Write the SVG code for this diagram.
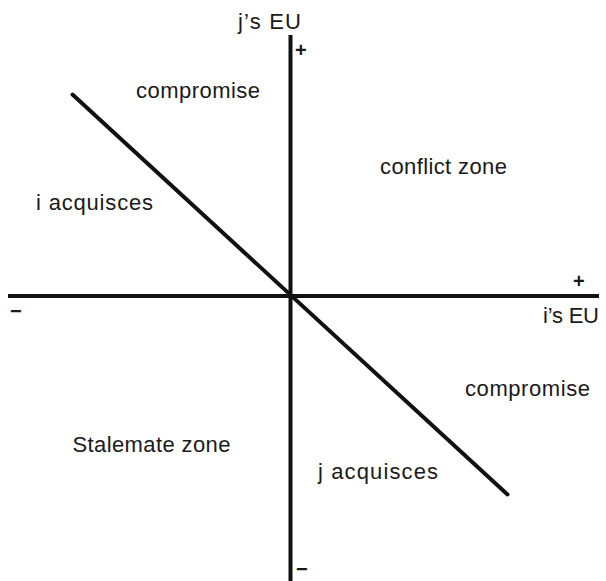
<svg xmlns="http://www.w3.org/2000/svg" width="606" height="581" viewBox="0 0 606 581">
<style>
text{font-family:"Liberation Sans",Arial,sans-serif;font-size:22px;fill:#1a1a1a}
.ax{stroke:#111;stroke-width:4;fill:none}
.sg{font-size:20px;font-weight:bold}
</style>
<rect width="606" height="581" fill="#fff"/>
<g id="connectors">
<line class="ax" x1="290.5" y1="35" x2="290.5" y2="581"/>
<line class="ax" x1="8" y1="296" x2="599" y2="296"/>
<line class="ax" x1="72.5" y1="94.5" x2="507.5" y2="494.5" stroke-linecap="round"/>
</g>
<g id="axis-labels">
<text x="238" y="29" textLength="63" lengthAdjust="spacing">j’s  EU</text>
<text x="543" y="323" textLength="56" lengthAdjust="spacing">i’s  EU</text>
<text class="sg" x="295" y="57">+</text>
<text class="sg" x="573" y="288">+</text>
<text class="sg" x="10" y="318">−</text>
<text class="sg" x="296" y="576">−</text>
</g>
<g id="compromise-top"><text x="136" y="97.5" textLength="124" lengthAdjust="spacing">compromise</text></g>
<g id="conflict-zone"><text x="380" y="173.5" textLength="127" lengthAdjust="spacing">conflict zone</text></g>
<g id="i-acquisces"><text x="36" y="209.5" textLength="117" lengthAdjust="spacing">i acquisces</text></g>
<g id="compromise-bottom"><text x="465" y="395.5" textLength="125" lengthAdjust="spacing">compromise</text></g>
<g id="stalemate-zone"><text x="72.5" y="451.5" textLength="158" lengthAdjust="spacing">Stalemate zone</text></g>
<g id="j-acquisces"><text x="318" y="479" textLength="120" lengthAdjust="spacing">j acquisces</text></g>
</svg>
